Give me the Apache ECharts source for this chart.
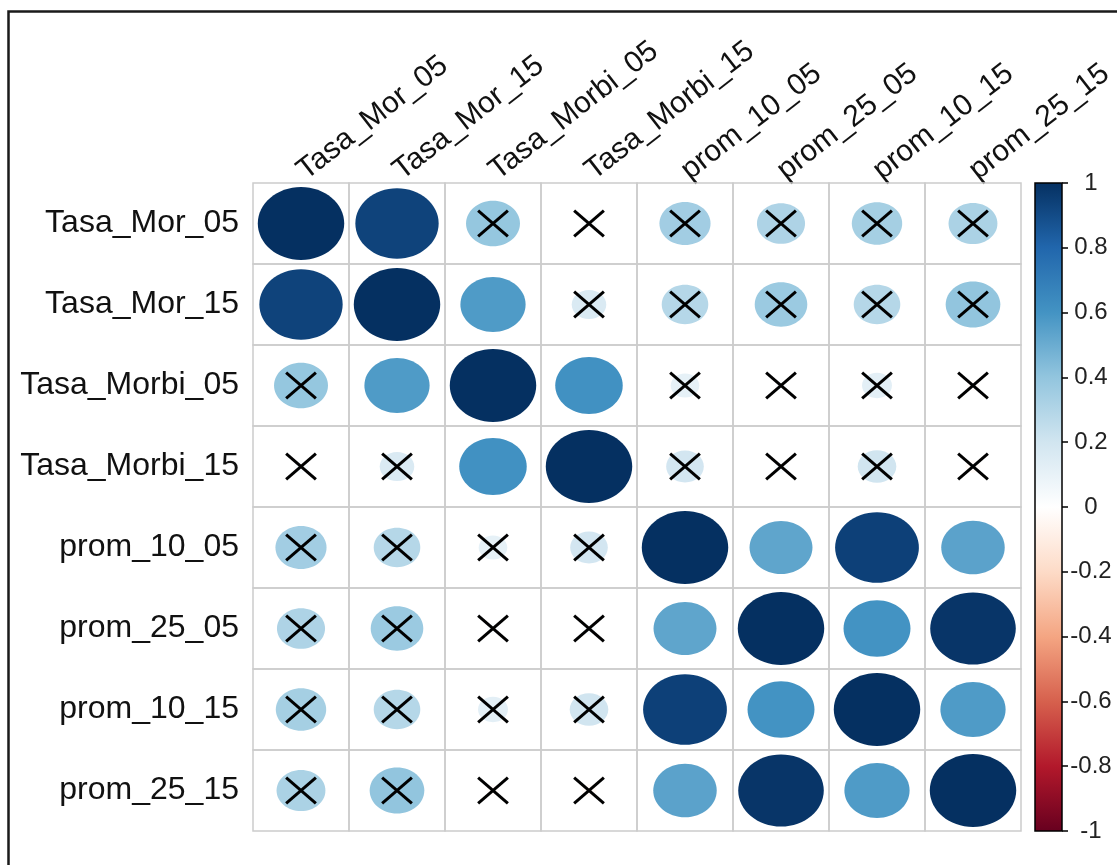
<!DOCTYPE html>
<html>
<head>
<meta charset="utf-8">
<script src="https://cdn.jsdelivr.net/npm/echarts@6/dist/echarts.min.js"></script>
<style>html,body{margin:0;padding:0;background:#fff}#c{width:1117px;height:865px}</style>
</head>
<body>
<div id="c"></div>
<script>
// ---- data ----
const variables = ['Tasa_Mor_05','Tasa_Mor_15','Tasa_Morbi_05','Tasa_Morbi_15','prom_10_05','prom_25_05','prom_10_15','prom_25_15'];
const corrMatrix = [
  [1.00, 0.93, 0.39, 0.03, 0.35, 0.31, 0.34, 0.32],
  [0.93, 1.00, 0.57, 0.16, 0.29, 0.37, 0.29, 0.40],
  [0.39, 0.57, 1.00, 0.61, 0.11, 0.02, 0.12, -0.02],
  [0.03, 0.16, 0.61, 1.00, 0.19, 0.03, 0.20, -0.03],
  [0.35, 0.29, 0.11, 0.19, 1.00, 0.53, 0.94, 0.54],
  [0.31, 0.37, 0.02, 0.03, 0.53, 1.00, 0.60, 0.98],
  [0.34, 0.29, 0.12, 0.20, 0.94, 0.60, 1.00, 0.57],
  [0.32, 0.40, -0.02, -0.03, 0.54, 0.98, 0.57, 1.00]
];
// 1 = not significant (crossed)
const notSignificant = [
  [0,0,1,1,1,1,1,1],
  [0,0,0,1,1,1,1,1],
  [1,0,0,0,1,1,1,1],
  [1,1,0,0,1,1,1,1],
  [1,1,1,1,0,0,0,0],
  [1,1,1,1,0,0,0,0],
  [1,1,1,1,0,0,0,0],
  [1,1,1,1,0,0,0,0]
];
const colorbarTicks = [-1,-0.8,-0.6,-0.4,-0.2,0,0.2,0.4,0.6,0.8,1];
const palette = ['#67001F','#B2182B','#D6604D','#F4A582','#FDDBC7','#FFFFFF','#D1E5F0','#92C5DE','#4393C3','#2166AC','#053061'];

// ---- helpers ----
function hex2rgb(h){return [parseInt(h.slice(1,3),16),parseInt(h.slice(3,5),16),parseInt(h.slice(5,7),16)];}
function colorFor(v){
  const t = (Math.max(-1,Math.min(1,v)) + 1) / 2 * (palette.length - 1);
  const i = Math.min(Math.floor(t), palette.length - 2);
  const f = t - i;
  const a = hex2rgb(palette[i]), b = hex2rgb(palette[i+1]);
  const c = a.map((x,k)=>Math.round(x + (b[k]-x)*f));
  return 'rgb(' + c.join(',') + ')';
}

const cellData = [];
corrMatrix.forEach((row, yi) => row.forEach((v, xi) => {
  cellData.push([xi, yi, v, notSignificant[yi][xi]]);
}));

const chart = echarts.init(document.getElementById('c'), null, {renderer:'canvas'});
const font = 'Liberation Sans, Arial, sans-serif';

chart.setOption({
  animation: false,
  backgroundColor: '#fff',
  graphic: [{
    type: 'rect', left: 6, top: 9, z: 100, silent: true,
    shape: {width: 1200, height: 900},
    style: {fill: 'none', stroke: '#1a1a1a', lineWidth: 2.5}
  }],
  grid: [
    {left: 253, top: 183, width: 768, height: 648, outerBoundsMode: 'none', containLabel: false},
    {left: 1035, top: 183, width: 27, height: 648, outerBoundsMode: 'none', containLabel: false}
  ],
  xAxis: [
    {type: 'category', gridIndex: 0, data: variables, position: 'top',
     axisLine: {show: false}, axisTick: {show: false}, splitLine: {show: false},
     axisLabel: {rotate: -38, margin: 9, fontSize: 30, fontFamily: font, color: '#111', interval: 0, hideOverlap: false}},
    {type: 'category', gridIndex: 1, data: [''], show: false}
  ],
  yAxis: [
    {type: 'category', gridIndex: 0, data: variables, inverse: true,
     axisLine: {show: false}, axisTick: {show: false}, splitLine: {show: false},
     axisLabel: {margin: 14, fontSize: 32, fontFamily: font, color: '#111', interval: 0}},
    {type: 'value', gridIndex: 1, min: -1, max: 1, interval: 0.2, position: 'right',
     splitLine: {show: false},
     axisLine: {show: false},
     axisTick: {show: true, length: 6, lineStyle: {color: '#000', width: 1.5}},
     axisLabel: {margin: 29, align: 'center', fontSize: 24, fontFamily: font, color: '#222',
                 formatter: v => String(Math.round(v*10)/10)}}
  ],
  series: [
    {
      type: 'custom', xAxisIndex: 0, yAxisIndex: 0, data: cellData,
      renderItem: function(params, api){
        const c = api.coord([api.value(0), api.value(1)]);
        const s = api.size([1, 1]);
        const v = api.value(2);
        const ns = api.value(3);
        const k = 0.45 * Math.sqrt(Math.abs(v));
        const children = [
          {type: 'rect', shape: {x: c[0]-s[0]/2, y: c[1]-s[1]/2, width: s[0], height: s[1]},
           style: {fill: 'none', stroke: '#cccccc', lineWidth: 1.5}},
          {type: 'ellipse', shape: {cx: c[0], cy: c[1], rx: k*s[0], ry: k*s[1]},
           style: {fill: colorFor(v), stroke: null}}
        ];
        if (ns) {
          const hx = 0.155*s[0], hy = 0.16*s[1];
          children.push({type: 'line', shape: {x1: c[0]-hx, y1: c[1]-hy, x2: c[0]+hx, y2: c[1]+hy},
                         style: {stroke: '#000', lineWidth: 3}});
          children.push({type: 'line', shape: {x1: c[0]-hx, y1: c[1]+hy, x2: c[0]+hx, y2: c[1]-hy},
                         style: {stroke: '#000', lineWidth: 3}});
        }
        return {type: 'group', children: children};
      }
    },
    {
      type: 'custom', xAxisIndex: 1, yAxisIndex: 1, data: [[0, -1, 1]],
      renderItem: function(params, api){
        const top = api.coord([0, api.value(2)]);
        const bot = api.coord([0, api.value(1)]);
        const w = api.size([1, 0])[0];
        const stops = palette.map((col, i) => ({offset: 1 - i/(palette.length-1), color: col}));
        stops.reverse();
        return {type: 'rect', shape: {x: top[0]-w/2, y: top[1], width: w, height: bot[1]-top[1]},
                style: {fill: new echarts.graphic.LinearGradient(0,0,0,1, stops), stroke: '#000', lineWidth: 1.5}};
      }
    }
  ]
});
</script>
</body>
</html>
